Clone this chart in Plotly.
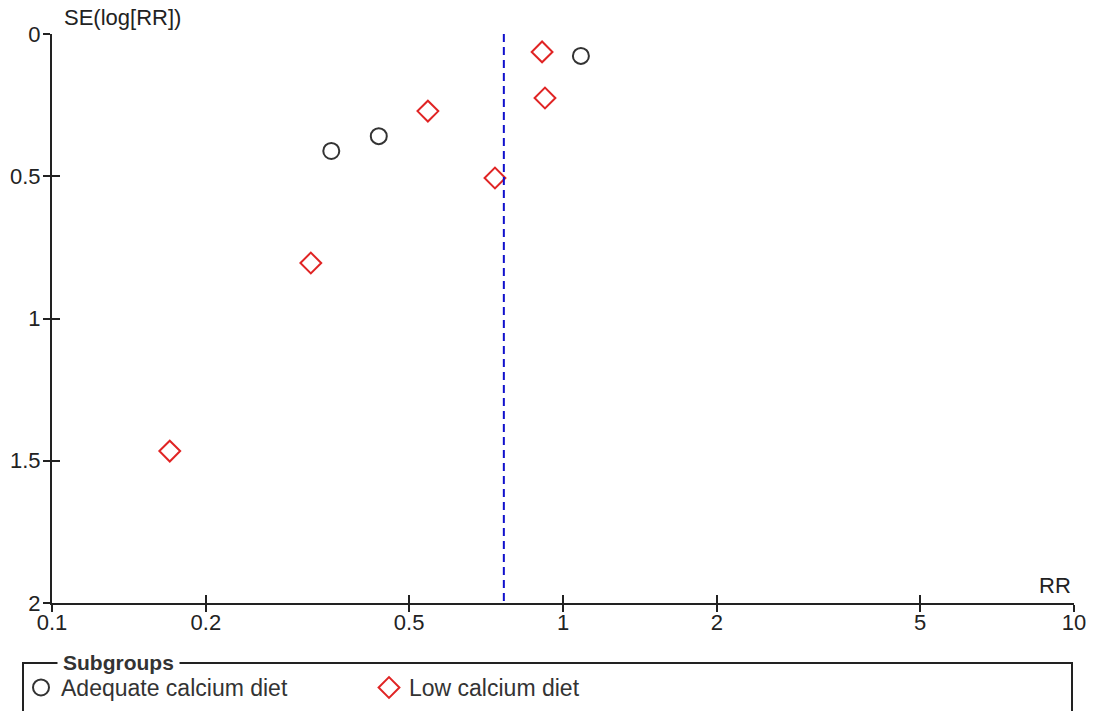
import plotly.graph_objects as go

# ---- data ----
adequate_rr = [0.352, 0.436, 1.084]
adequate_se = [0.411, 0.359, 0.077]
low_rr = [0.910, 0.922, 0.544, 0.736, 0.321, 0.170]
low_se = [0.063, 0.225, 0.271, 0.506, 0.805, 1.466]
summary_rr = 0.766
x_ticks = [0.1, 0.2, 0.5, 1, 2, 5, 10]
x_ticktext = ["0.1", "0.2", "0.5", "1", "2", "5", "10"]
y_ticks = [0, 0.5, 1, 1.5, 2]
y_ticktext = ["0", "0.5", "1", "1.5", "2"]

FONT = "Liberation Sans"
W, H = 1094, 711
L, R, T, B = 52, 20, 34, 108
PW, PH = W - L - R, H - T - B

def px_x(x):
    return (x - L) / PW

def px_y(y):
    return (H - B - y) / PH

fig = go.Figure()

fig.add_trace(go.Scatter(
    x=adequate_rr, y=adequate_se, mode="markers", name="Adequate calcium diet",
    marker=dict(symbol="circle-open", size=16, color="#333333", line=dict(width=2, color="#333333")),
))
fig.add_trace(go.Scatter(
    x=low_rr, y=low_se, mode="markers", name="Low calcium diet",
    marker=dict(symbol="diamond-open", size=16, color="#e02424", line=dict(width=2, color="#e02424")),
))
fig.add_trace(go.Scatter(
    x=[summary_rr, summary_rr], y=[y_ticks[0], y_ticks[-1]], mode="lines", showlegend=False,
    line=dict(color="#1010cc", width=2, dash="8px,5px"), xaxis="x2", yaxis="y2", hoverinfo="skip",
))

axis_font = dict(family=FONT, size=22, color="#222222")

fig.update_layout(
    width=W, height=H, autosize=False,
    margin=dict(l=L, r=R, t=T, b=B, autoexpand=False),
    paper_bgcolor="white", plot_bgcolor="white",
    font=dict(family=FONT, size=22, color="#222222"),
    xaxis=dict(
        type="log", range=[-1, 1], tickvals=x_ticks, ticktext=x_ticktext,
        ticks="outside", ticklen=7, tickwidth=2, tickcolor="#222222",
        showline=True, linecolor="#222222", linewidth=2, showgrid=False, zeroline=False,
        tickfont=axis_font, fixedrange=True, ticklabelstandoff=-8, automargin=False,
    ),
    yaxis=dict(
        range=[2, 0], autorange=False, tickvals=y_ticks, ticktext=y_ticktext,
        ticks="outside", ticklen=7, tickwidth=2, tickcolor="#222222",
        showline=True, linecolor="#222222", linewidth=2, showgrid=False, zeroline=False,
        tickfont=axis_font, fixedrange=True, automargin=False, ticklabelstandoff=-2,
    ),
    xaxis2=dict(
        type="log", range=[-1, 1], tickvals=x_ticks, overlaying="x", anchor="y2",
        ticks="inside", ticklen=8, tickwidth=2, tickcolor="#222222",
        showticklabels=False, showline=False, showgrid=False, zeroline=False, automargin=False,
    ),
    yaxis2=dict(
        range=[2, 0], autorange=False, tickvals=y_ticks, overlaying="y", anchor="x2", side="left",
        ticks="inside", ticklen=8, tickwidth=2, tickcolor="#222222",
        showticklabels=False, showline=False, showgrid=False, zeroline=False, automargin=False,
    ),
    legend=dict(
        orientation="h", xref="container", yref="container",
        x=21 / W, y=1 - 666 / H, xanchor="left", yanchor="top",
        font=dict(family=FONT, size=23, color="#333333"),
        bgcolor="rgba(0,0,0,0)", borderwidth=0,
        entrywidth=303, entrywidthmode="pixels", itemclick=False,
    ),
    showlegend=True,
)

# legend frame with title breaking the top border
fig.add_shape(type="rect", xref="paper", yref="paper",
              x0=px_x(23), x1=px_x(1072), y0=px_y(740), y1=px_y(663),
              line=dict(color="#222222", width=2), fillcolor="rgba(0,0,0,0)", layer="above")
fig.add_annotation(text="<b>Subgroups</b>", xref="paper", yref="paper",
                   x=px_x(57), y=px_y(662), xanchor="left", yanchor="middle", showarrow=False,
                   font=dict(family=FONT, size=21, color="#333333"), bgcolor="white", borderpad=5)

# axis titles
fig.add_annotation(text="SE(log[RR])", xref="paper", yref="paper",
                   x=px_x(62), y=px_y(18), xanchor="left", yanchor="middle", showarrow=False,
                   font=axis_font)
fig.add_annotation(text="RR", xref="paper", yref="paper",
                   x=px_x(1073), y=px_y(585), xanchor="right", yanchor="middle", showarrow=False,
                   font=axis_font)

fig.write_html("out.html", config={"displayModeBar": False, "responsive": False},
               post_script="document.body.style.margin='0';document.body.style.overflow='hidden';")
